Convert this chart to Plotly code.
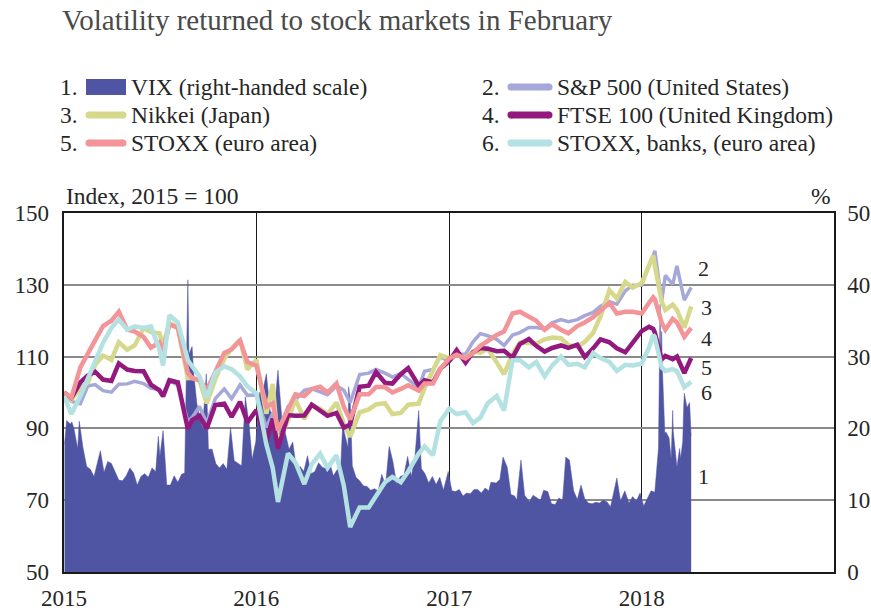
import plotly.graph_objects as go

# ---------------- data ----------------
dates = [
    "2015-01-01", "2015-01-15", "2015-02-01", "2015-02-15", "2015-03-01", "2015-03-16", "2015-04-01", "2015-04-15",
    "2015-05-01", "2015-05-15", "2015-06-01", "2015-06-15", "2015-07-01", "2015-07-08", "2015-07-20", "2015-08-05",
    "2015-08-24", "2015-09-01", "2015-09-15", "2015-09-29", "2015-10-15", "2015-11-01", "2015-11-15", "2015-12-01",
    "2015-12-15",
    "2016-01-01", "2016-01-20", "2016-02-01", "2016-02-11", "2016-03-01", "2016-03-15", "2016-04-01", "2016-04-15",
    "2016-05-01", "2016-05-15", "2016-06-01", "2016-06-15", "2016-06-27", "2016-07-15", "2016-08-01", "2016-08-15",
    "2016-09-01", "2016-09-15", "2016-10-01", "2016-10-15", "2016-11-04", "2016-11-15", "2016-12-01", "2016-12-15",
    "2017-01-01", "2017-01-15", "2017-02-01", "2017-02-15", "2017-03-01", "2017-03-15", "2017-04-01", "2017-04-15",
    "2017-05-01", "2017-05-15", "2017-06-01", "2017-06-15", "2017-07-01", "2017-07-15", "2017-08-01", "2017-08-15",
    "2017-09-01", "2017-09-15", "2017-10-01", "2017-10-15", "2017-11-01", "2017-11-15", "2017-12-01", "2017-12-15",
    "2018-01-01", "2018-01-15", "2018-01-23", "2018-01-26", "2018-02-08", "2018-02-15", "2018-03-01", "2018-03-09",
    "2018-03-23", "2018-04-05",
]

sp500 = [
    100, 97.5, 96.9, 101.8, 102.2, 100.5, 100.1, 102.3, 102.4, 103.1, 102.5, 101.2, 100.9, 99.4, 103.4, 102.0,
    91.9, 93.0, 96.1, 91.5, 98.3, 101.0, 98.3, 102.1, 99.2,
    99.3, 90.3, 94.2, 88.8, 96.1, 97.9, 100.6, 101.1, 100.3, 99.4, 101.9, 100.6, 97.2, 105.0, 105.4, 106.4,
    105.4, 104.3, 105.3, 103.6, 101.3, 105.9, 106.4, 109.9,
    108.7, 110.5, 110.7, 114.1, 116.4, 115.8, 114.8, 113.1, 116.0, 116.7, 118.1, 118.1, 117.7, 119.4, 120.3, 119.7,
    120.3, 121.4, 122.3, 124.0, 125.3, 124.6, 128.3, 129.9,
    129.9, 135.3, 137.9, 139.5, 125.4, 132.6, 130.1, 135.3, 125.7, 129.3,
]

nikkei = [
    100, 98.0, 101.3, 102.7, 107.7, 110.3, 109.1, 114.0, 111.9, 113.1, 117.9, 116.8, 116.5, 113.1, 119.4, 118.1,
    104.0, 104.1, 103.3, 97.0, 103.7, 109.4, 112.3, 114.7, 106.4,
    109.1, 94.1, 102.4, 85.7, 92.2, 98.1, 92.6, 96.5, 95.5, 94.0, 97.2, 91.2, 87.7, 94.5, 95.3, 96.7,
    97.0, 94.0, 94.3, 96.6, 96.9, 101.2, 106.1, 110.4,
    109.5, 110.5, 109.7, 111.4, 111.1, 112.2, 108.4, 105.1, 110.7, 113.9, 113.8, 113.6, 114.8, 115.3, 115.1, 113.2,
    112.8, 114.1, 116.6, 121.2, 128.5, 126.2, 130.8, 129.2,
    130.5, 135.9, 138.2, 135.4, 125.4, 123.0, 124.5, 123.0, 118.1, 124.0,
]

ftse = [
    100, 98.5, 102.8, 104.7, 105.8, 103.6, 103.2, 108.1, 106.4, 106.0, 105.9, 102.2, 100.6, 98.9, 103.4, 102.8,
    89.8, 92.3, 93.5, 90.0, 96.5, 96.9, 93.2, 97.4, 91.7,
    95.1, 86.4, 92.7, 84.3, 93.7, 93.5, 93.6, 96.6, 95.1, 93.5, 94.3, 90.2, 91.1, 101.6, 101.9, 105.7,
    102.7, 102.5, 105.1, 106.8, 101.9, 103.4, 102.8, 106.6,
    108.8, 111.8, 108.3, 111.2, 112.4, 112.2, 111.5, 111.6, 109.7, 113.5, 114.9, 113.0, 111.4, 112.4, 113.1, 112.4,
    113.3, 109.9, 112.3, 114.8, 114.0, 112.3, 111.2, 114.1,
    117.1, 118.3, 117.7, 116.7, 109.2, 110.2, 109.3, 110.0, 105.4, 109.6,
]

stoxx = [
    100, 98.5, 107, 110.5, 114.5, 118.5, 120, 122.5, 117.5, 117, 115.5, 112.5, 114, 111.5, 119, 118,
    105.5, 104, 103.5, 100.7, 106, 111, 112, 114.5, 108.5,
    107.5, 96, 97, 89.5, 95.5, 99.5, 99, 101, 101.6, 100, 102.5, 96, 92.5, 99.5, 99.5, 101.5,
    101.5, 100, 101, 102, 100.5, 102.5, 102.5, 106.5,
    109.5, 110.5, 109.5, 111, 113, 114.5, 116, 117, 122, 122.5, 121, 120, 117.5, 119, 117.5, 116.5,
    118.5, 119.5, 121, 123, 125, 122, 122.5, 122.5,
    122, 125, 126.5, 126, 119.5, 117.5, 120.5, 119.5, 115.5, 118,
]

stoxx_banks = [
    99, 94, 99, 103.6, 108.5, 113.8, 118, 120.3, 117.5, 118.4, 118, 118.4, 112, 107.5, 121.5, 119.5,
    109, 107.3, 104.5, 98.5, 105.5, 107.3, 106.5, 104.5, 101.7,
    99.8, 85.5, 79, 69.5, 83, 80.5, 74.5, 80, 83, 79, 82.5, 74, 62.5, 68, 68, 71,
    75, 76.5, 75, 78, 83, 85, 82.5, 92,
    95.5, 94, 94.5, 91.5, 93, 97, 99, 95, 109, 109, 107, 108.5, 104.5, 107.5, 110, 107.7,
    108, 107, 111, 109.6, 108.5, 106, 107.7, 107.5,
    108, 112.5, 116, 115.5, 107, 106, 106.5, 106, 101.5, 103,
]

vix_dates = [
    "2015-01-02", "2015-01-06", "2015-01-13", "2015-01-16", "2015-01-20", "2015-01-27", "2015-01-30", "2015-02-06",
    "2015-02-13", "2015-02-20", "2015-02-27", "2015-03-06", "2015-03-11", "2015-03-18", "2015-03-25", "2015-04-01",
    "2015-04-08", "2015-04-15", "2015-04-22", "2015-04-29", "2015-05-06", "2015-05-13", "2015-05-20", "2015-05-27",
    "2015-06-03", "2015-06-10", "2015-06-17", "2015-06-24", "2015-06-29", "2015-07-02", "2015-07-08", "2015-07-15",
    "2015-07-22", "2015-07-29", "2015-08-05", "2015-08-12", "2015-08-18", "2015-08-21", "2015-08-24", "2015-08-26",
    "2015-09-01", "2015-09-04", "2015-09-10", "2015-09-16", "2015-09-21", "2015-09-28", "2015-10-02", "2015-10-09",
    "2015-10-16", "2015-10-23", "2015-10-30", "2015-11-06", "2015-11-13", "2015-11-20", "2015-11-27", "2015-12-04",
    "2015-12-11", "2015-12-14", "2015-12-18", "2015-12-24", "2015-12-31",
    "2016-01-07", "2016-01-13", "2016-01-20", "2016-01-27", "2016-02-03", "2016-02-11", "2016-02-18", "2016-02-25",
    "2016-03-03", "2016-03-10", "2016-03-17", "2016-03-24", "2016-03-31", "2016-04-07", "2016-04-14", "2016-04-21",
    "2016-04-28", "2016-05-05", "2016-05-12", "2016-05-19", "2016-05-26", "2016-06-02", "2016-06-09", "2016-06-13",
    "2016-06-16", "2016-06-23", "2016-06-24", "2016-06-27", "2016-07-01", "2016-07-08", "2016-07-15", "2016-07-22",
    "2016-07-29", "2016-08-05", "2016-08-12", "2016-08-19", "2016-08-26", "2016-09-02", "2016-09-09", "2016-09-16",
    "2016-09-23", "2016-09-30", "2016-10-07", "2016-10-14", "2016-10-21", "2016-10-28", "2016-11-04", "2016-11-09",
    "2016-11-16", "2016-11-23", "2016-11-30", "2016-12-07", "2016-12-14", "2016-12-21", "2016-12-30",
    "2017-01-06", "2017-01-13", "2017-01-20", "2017-01-27", "2017-02-03", "2017-02-10", "2017-02-17", "2017-02-24",
    "2017-03-03", "2017-03-10", "2017-03-17", "2017-03-21", "2017-03-31", "2017-04-07", "2017-04-13", "2017-04-21",
    "2017-04-28", "2017-05-05", "2017-05-09", "2017-05-17", "2017-05-24", "2017-06-02", "2017-06-09", "2017-06-16",
    "2017-06-23", "2017-06-29", "2017-07-07", "2017-07-14", "2017-07-21", "2017-07-28", "2017-08-04", "2017-08-10",
    "2017-08-17", "2017-08-25", "2017-09-01", "2017-09-08", "2017-09-15", "2017-09-22", "2017-09-29", "2017-10-06",
    "2017-10-13", "2017-10-20", "2017-10-27", "2017-11-03", "2017-11-10", "2017-11-15", "2017-11-22", "2017-11-30",
    "2017-12-08", "2017-12-15", "2017-12-22", "2017-12-29",
    "2018-01-05", "2018-01-12", "2018-01-19", "2018-01-26", "2018-01-30", "2018-02-02", "2018-02-05", "2018-02-06",
    "2018-02-08", "2018-02-09", "2018-02-14", "2018-02-16", "2018-02-22", "2018-02-26", "2018-03-01", "2018-03-02",
    "2018-03-09", "2018-03-14", "2018-03-16", "2018-03-20", "2018-03-22", "2018-03-23", "2018-03-28", "2018-04-02",
    "2018-04-05",
]

vix = [
    17.8, 21.1, 20.6, 20.9, 19.9, 17.2, 21.0, 17.3, 14.7, 14.3, 13.3, 15.2, 16.9, 13.9, 15.4, 15.1,
    14.0, 12.8, 12.7, 13.4, 14.5, 13.8, 12.1, 13.3, 13.7, 13.2, 14.5, 14.0, 18.9, 16.1, 19.7, 12.1,
    12.1, 13.4, 12.5, 13.6, 13.8, 28.0, 40.7, 30.3, 31.4, 27.8, 23.5, 21.4, 20.1, 27.6, 17.1, 17.1,
    15.1, 14.5, 15.1, 14.3, 20.1, 15.5, 15.1, 14.8, 24.4, 22.7, 20.7, 15.7, 18.2,
    25.0, 25.2, 27.6, 22.5, 21.7, 28.1, 21.6, 19.1, 17.1, 18.1, 14.4, 14.7, 14.0, 16.2, 13.7, 14.0,
    15.2, 14.6, 14.4, 15.3, 13.4, 14.2, 14.6, 21.0, 19.4, 17.3, 25.8, 23.9, 14.8, 13.2, 12.7, 12.0,
    11.9, 11.4, 11.6, 11.3, 13.6, 12.0, 17.5, 15.4, 12.3, 13.3, 13.5, 16.1, 13.3, 16.2, 22.5, 14.4,
    13.7, 12.4, 13.3, 12.2, 13.2, 11.4, 14.0,
    11.3, 11.2, 11.5, 10.6, 11.0, 10.9, 11.5, 11.5, 11.0, 11.7, 11.3, 12.5, 12.4, 12.9, 16.0, 14.6,
    10.8, 10.6, 10.0, 15.6, 10.7, 9.8, 10.7, 10.4, 10.0, 11.4, 11.2, 9.5, 9.4, 10.3, 10.0, 16.0,
    15.6, 11.3, 10.1, 12.1, 10.2, 9.6, 9.5, 9.7, 9.6, 10.0, 9.8, 9.1, 11.3, 13.1, 9.9, 11.3,
    9.6, 10.5, 9.9, 11.0,
    9.2, 10.2, 11.3, 11.1, 14.8, 17.3, 37.3, 30.0, 33.5, 29.1, 19.3, 19.5, 18.7, 15.8, 22.5, 19.6,
    14.6, 17.2, 15.8, 18.2, 23.3, 24.9, 22.9, 23.6, 18.9,
]

year_ticks = ["2015-01-01", "2016-01-01", "2017-01-01", "2018-01-01", "2019-01-01"]
year_labels = ["2015", "2016", "2017", "2018", ""]
left_ticks = [50, 70, 90, 110, 130, 150]
right_ticks = [0, 10, 20, 30, 40, 50]

series_names = ["VIX (right-handed scale)", "S&P 500 (United States)", "Nikkei (Japan)",
                "FTSE 100 (United Kingdom)", "STOXX (euro area)", "STOXX, banks, (euro area)"]

# ---------------- style ----------------
W, H = 871, 612
PL, PT, PW, PH = 64, 213, 770, 359  # plot area on screen
L = PL
T = PT
R = W - L - PW
B = H - T - PH
FONT = "Liberation Serif"
TXT = "#262626"
FS = 23.5
C_VIX = "#5055a3"
C_SP = "#a5a8d8"
C_NK = "#d6d98b"
C_FT = "#93197e"
C_SX = "#f29498"
C_BK = "#b4e1e1"


def px(x):
    return (x - PL) / PW


def py(y):
    return (PT + PH - y) / PH


fig = go.Figure()

# VIX area on the primary (right-hand) axis so that the index lines on the overlaying axis sit on top
fig.add_trace(go.Scatter(x=vix_dates, y=vix, yaxis="y", mode="lines", fill="tozeroy",
                         line=dict(width=0.5, color=C_VIX), fillcolor=C_VIX, showlegend=False,
                         hoverinfo="skip"))

for vals, col, w in [(sp500, C_SP, 3.5), (nikkei, C_NK, 4.5), (ftse, C_FT, 4.5),
                     (stoxx, C_SX, 4.5), (stoxx_banks, C_BK, 4.5)]:
    fig.add_trace(go.Scatter(x=dates, y=vals, yaxis="y2", mode="lines",
                             line=dict(width=w, color=col), showlegend=False))

tick_font = dict(family=FONT, size=23, color=TXT)

fig.update_layout(
    template="none",
    width=W, height=H,
    margin=dict(l=L, r=R, t=T, b=B, autoexpand=False),
    paper_bgcolor="white", plot_bgcolor="white",
    font=dict(family=FONT, size=FS, color=TXT),
    showlegend=False,
    title=dict(text="Volatility returned to stock markets in February", x=62 / W, xanchor="left",
               y=1 - 20 / H, yanchor="middle", font=dict(family=FONT, size=29, color="#4a4a4a")),
    xaxis=dict(type="date", range=["2015-01-01", "2019-01-01"], tickvals=year_ticks, ticktext=year_labels,
               showgrid=True, gridcolor="#1a1a1a", gridwidth=1, showline=True, linecolor="#1a1a1a",
               linewidth=1.5, mirror=True, ticks="", ticklabelstandoff=5, automargin=False,
               tickfont=tick_font, zeroline=False),
    yaxis=dict(range=[0, 50], side="right", tickvals=right_ticks, showgrid=True, gridcolor="#8a8a8a",
               gridwidth=1.5, showline=True, linecolor="#1a1a1a", linewidth=1.5, mirror=True,
               ticks="", ticklabelstandoff=7, zeroline=False, automargin=False,
               tickfont=tick_font),
    yaxis2=dict(range=[50, 150], side="left", overlaying="y", tickvals=left_ticks, showgrid=False,
                ticks="", ticklabelstandoff=14, zeroline=False, showline=False, automargin=False,
                tickfont=tick_font),
)

ann = []
shapes = []

# axis captions
ann.append(dict(text="Index, 2015 = 100", x=px(64), y=py(196), xanchor="left", yanchor="middle"))
ann.append(dict(text="%", x=px(821), y=py(196), xanchor="center", yanchor="middle"))

# custom numbered legend
legend_rows = [87, 115, 143]
colors = [C_VIX, C_SP, C_NK, C_FT, C_SX, C_BK]
for i, name in enumerate(series_names):
    row = i // 2
    colx = i % 2
    yc = legend_rows[row]
    nx = 80 if colx == 0 else 502
    sx0, sx1 = (86, 126) if colx == 0 else (508, 552)
    tx = 129 if colx == 0 else 555
    ann.append(dict(text=f"{i + 1}.", x=px(nx), y=py(yc), xanchor="right", yanchor="middle"))
    ann.append(dict(text=name, x=px(tx), y=py(yc), xanchor="left", yanchor="middle"))
    if i == 0:
        shapes.append(dict(type="rect", xref="paper", yref="paper", x0=px(sx0), x1=px(sx1),
                           y0=py(yc + 8), y1=py(yc - 8), fillcolor=colors[i], line=dict(width=0)))
    else:
        shapes.append(dict(type="line", xref="paper", yref="paper", x0=px(sx0 + 3), x1=px(sx1 - 3),
                           y0=py(yc), y1=py(yc), line=dict(color=colors[i], width=7)))
        for cx in (sx0 + 3, sx1 - 3):
            shapes.append(dict(type="circle", xref="paper", yref="paper", x0=px(cx - 3.5), x1=px(cx + 3.5),
                               y0=py(yc + 3.5), y1=py(yc - 3.5), fillcolor=colors[i],
                               line=dict(width=0)))

# line-end numbers
for label, (lx, ly) in zip(["1", "2", "3", "4", "5", "6"],
                           [(703, 476), (703, 268), (706, 307), (706, 338), (706, 367), (706, 392)]):
    ann.append(dict(text=label, x=px(lx), y=py(ly), xanchor="center", yanchor="middle",
                    font=dict(family=FONT, size=22, color=TXT)))

for a in ann:
    a.update(xref="paper", yref="paper", showarrow=False)
    a.setdefault("font", dict(family=FONT, size=FS, color=TXT))

fig.update_layout(annotations=ann, shapes=shapes)

fig.write_html("out.html", config={"displayModeBar": False},
               post_script="document.body.style.margin='0';document.body.style.overflow='hidden';")
